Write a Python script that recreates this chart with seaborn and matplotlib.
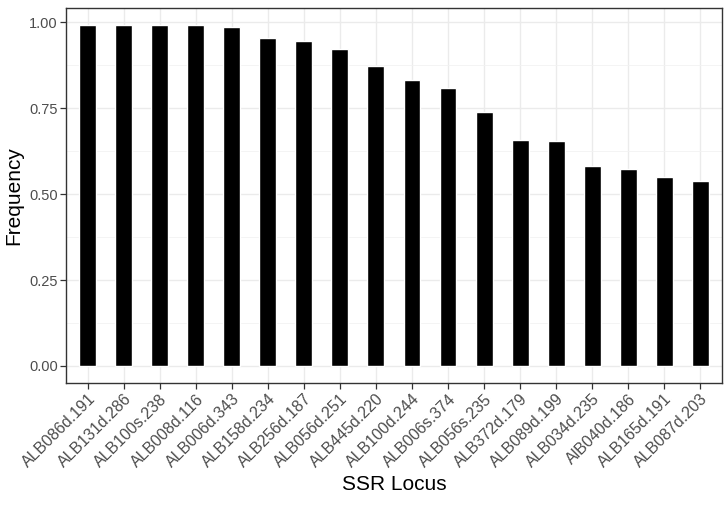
import matplotlib
matplotlib.use("Agg")
import matplotlib.pyplot as plt
import seaborn as sns
import pandas as pd
from matplotlib.ticker import MultipleLocator

# 数据
loci = ["ALB086d.191", "ALB131d.286", "ALB100s.238", "ALB008d.116", "ALB006d.343",
        "ALB158d.234", "ALB256d.187", "ALB056d.251", "ALB445d.220", "ALB100d.244",
        "ALB006s.374", "ALB056s.235", "ALB372d.179", "ALB089d.199", "ALB034d.235",
        "AlB040d.186", "ALB165d.191", "ALB087d.203"]
freq = [0.992, 0.992, 0.992, 0.992, 0.988, 0.954, 0.946, 0.923, 0.872, 0.834,
        0.808, 0.738, 0.658, 0.654, 0.582, 0.574, 0.551, 0.539]

df = pd.DataFrame({"SSR Locus": loci, "Frequency": freq})

sns.set_theme(style="white")
plt.rcParams['font.family'] = ['Liberation Sans', 'DejaVu Sans']

fig = plt.figure(figsize=(7.27, 5.13), dpi=100)
ax = fig.add_axes([0.0908, 0.2534, 0.9022, 0.7306])

sns.barplot(data=df, x="SSR Locus", y="Frequency", color="black", width=0.47,
            saturation=1, ax=ax, zorder=3)

# theme_bw 风格
ax.set_ylim(-0.0496, 1.0416)
ax.set_xlim(-0.6, len(loci) - 0.4)
ax.yaxis.set_minor_locator(MultipleLocator(0.125))
ax.set_yticks([0, 0.25, 0.5, 0.75, 1.0])
ax.set_yticklabels(["0.00", "0.25", "0.50", "0.75", "1.00"])
ax.grid(which="major", color="#EBEBEB", linewidth=1.0, zorder=0)
ax.grid(which="minor", axis="y", color="#F2F2F2", linewidth=0.6, zorder=0)
ax.set_axisbelow(True)
for s in ax.spines.values():
    s.set_color("#333333")
    s.set_linewidth(1.0)

ax.tick_params(axis="both", which="major", length=4, width=0.9, color="#333333",
               labelcolor="#4D4D4D", bottom=True, left=True, pad=2)
ax.tick_params(axis="y", labelsize=10.5)
ax.tick_params(axis="x", labelsize=11.5)
ax.tick_params(axis="y", which="minor", length=0)
plt.setp(ax.get_xticklabels(), rotation=45, ha="right", rotation_mode="anchor")

ax.set_xlabel("SSR Locus", fontsize=15, color="black", labelpad=3)
ax.set_ylabel("Frequency", fontsize=15, color="black", labelpad=4)

fig.savefig("out.png", dpi=100)
